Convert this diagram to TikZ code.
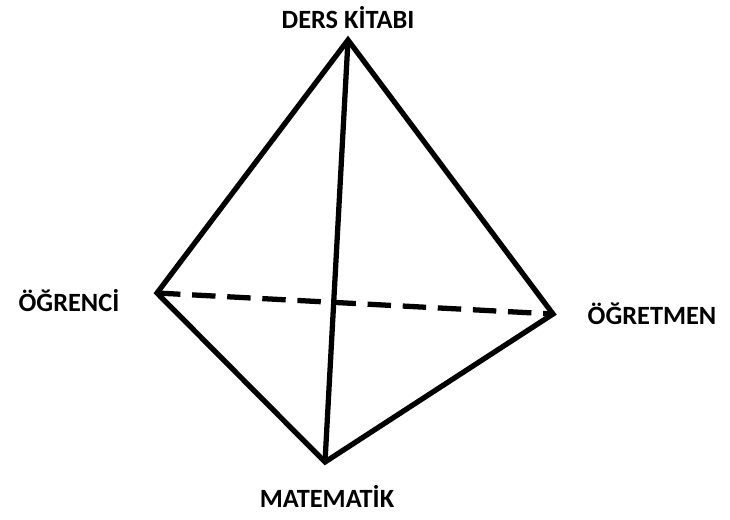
\documentclass[tikz,border=0pt]{standalone}
\usepackage{fontspec}
\setmainfont{Carlito}
\usetikzlibrary{positioning}

\begin{document}
\begin{tikzpicture}[
    x=0.03cm, y=-0.03cm,
    edge/.style={line width=4.5pt, line join=miter},
    hidden/.style={edge, dash pattern=on 20pt off 10pt},
    label/.style={font=\bfseries\fontsize{22.5}{25}\selectfont, inner sep=0pt}
]
\useasboundingbox (0,0) rectangle (730,519);

\coordinate (kitap) at (348,40);
\coordinate (ogrenci) at (157,293);
\coordinate (ogretmen) at (553,314);
\coordinate (mat) at (325,462);

\node[label] (kitaplbl) at (348,18) {DERS KİTABI};
\node[label] (ogrencilbl) at (69,301) {ÖĞRENCİ};
\node[label] (ogretmenlbl) at (652,314) {ÖĞRETMEN};
\node[label] (matlbl) at (327,496) {MATEMATİK};

\draw[edge] (ogrenci) -- (kitap) -- (ogretmen) -- (mat) -- cycle;
\draw[edge] (kitap) -- (mat);
\draw[hidden] (ogrenci) -- (ogretmen);

\end{tikzpicture}
\end{document}
